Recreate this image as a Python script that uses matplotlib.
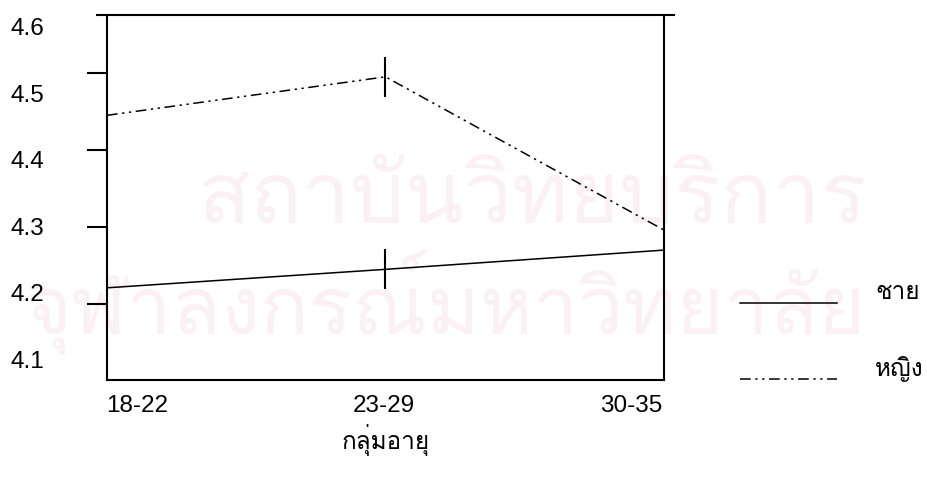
import matplotlib
matplotlib.use("Agg")
import matplotlib.pyplot as plt
from matplotlib import font_manager
from matplotlib.lines import Line2D
from matplotlib.ft2font import FT2Font

# ข้อมูล
age_groups = ["18-22", "23-29", "30-35"]
male = [4.221, 4.245, 4.270]
female = [4.445, 4.495, 4.296]
y_ticks = [4.2, 4.3, 4.4, 4.5]
y_labels = [4.1, 4.2, 4.3, 4.4, 4.5, 4.6]
legend_labels = ["ชาย", "หญิง"]
x_title = "กลุ่มอายุ"
watermark = ["สถาบันวิทยบริการ", "จุฬาลงกรณ์มหาวิทยาลัย"]


def find_thai_font():
    """หาฟอนต์ที่มีตัวอักษรไทย"""
    for f in font_manager.fontManager.ttflist:
        try:
            if 0x0E0A in FT2Font(f.fname).get_charmap():
                return f.name
        except Exception:
            pass
    return None


thai = find_thai_font()
families = ["Liberation Sans"] + ([thai] if thai else []) + ["DejaVu Sans"]
plt.rcParams["font.family"] = families
plt.rcParams["font.size"] = 17.5

fig = plt.figure(figsize=(9.27, 4.84), dpi=100)

# ลายน้ำจาง ๆ ด้านหลัง
wm_color = "#fbf1f5"
fig.text(0.575, 0.585, watermark[0], fontsize=62, color=wm_color,
         ha="center", va="center", zorder=-5)
fig.text(0.48, 0.375, watermark[1], fontsize=58, color=wm_color,
         ha="center", va="center", zorder=-5)

pos = [0.1154, 0.2149, 0.6009, 0.7541]
ax = fig.add_axes(pos)
ax.set_facecolor("none")

x = list(range(len(age_groups)))
dashdotdot = (0, (7, 3, 1.5, 3, 1.5, 3))
ax.plot(x, male, color="black", lw=1.1, marker="|", markevery=[1],
        ms=29, mew=1.5)
ax.plot(x, female, color="black", lw=1.1, ls=dashdotdot,
        marker="|", markevery=[1], ms=29, mew=1.5)

ax.set_xlim(0, 2)
ax.set_ylim(4.1013, 4.5753)
ax.set_xticks([])
ax.set_yticks(y_ticks)
ax.set_yticklabels([])
ax.tick_params(axis="y", direction="out", length=14.4, width=1.5)
for s in ax.spines.values():
    s.set_linewidth(1.5)
ax.spines["top"].set_bounds(-0.035, 2.035)

# แกนสำหรับป้ายตัวเลข (ตำแหน่งไม่ตรงกับขีดในภาพต้นฉบับ)
lab = fig.add_axes(pos, frameon=False)
lab.patch.set_alpha(0)
lab.set_xlim(-0.121, 2.134)
lab.set_ylim(4.0684, 4.618)
lab.set_xticks(x)
lab.set_xticklabels(age_groups)
lab.set_yticks(y_labels)
lab.set_yticklabels([f"{v:.1f}" for v in y_labels])
lab.tick_params(axis="both", length=0)
lab.tick_params(axis="y", pad=45)
lab.tick_params(axis="x", pad=10.5)
lab.set_xlabel(x_title, labelpad=5)

# คำอธิบายเส้น (วาดเอง ข้อความอยู่สูงกว่าเส้นเล็กน้อย)
styles = ["-", dashdotdot]
line_y = [0.374, 0.217]
for style, ly, name in zip(styles, line_y, legend_labels):
    fig.add_artist(Line2D([0.798, 0.903], [ly, ly], color="black",
                          lw=1.1, ls=style))
    fig.text(0.944, ly + 0.021, name, ha="left", va="center")

fig.savefig("out.png", dpi=100)
